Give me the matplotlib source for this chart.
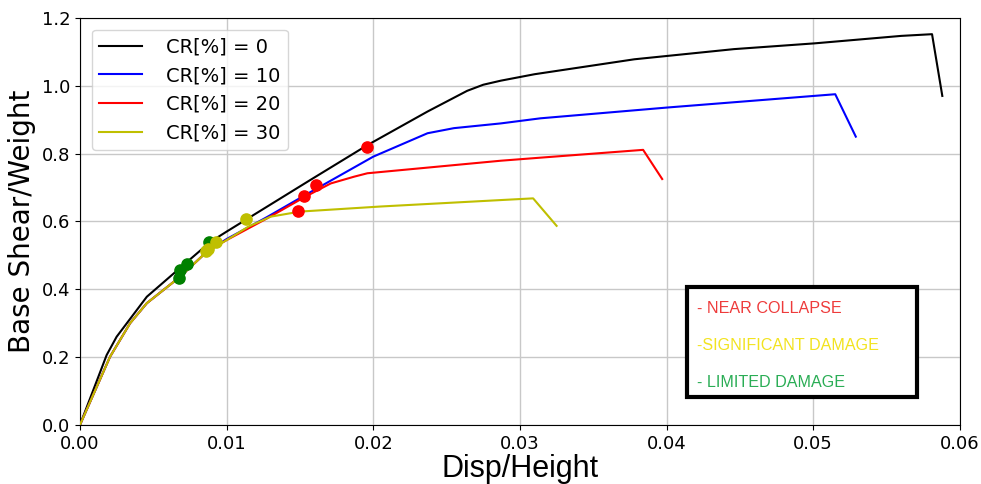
import matplotlib
matplotlib.use("Agg")
import matplotlib.pyplot as plt
from matplotlib.patches import Rectangle

# pushover curves: drift ratio vs base shear / weight
cr0_x = [0.0, 0.00182, 0.0025, 0.00456, 0.00683, 0.0089, 0.01, 0.0157, 0.0196, 0.0237,
         0.0264, 0.0275, 0.0287, 0.031, 0.0378, 0.0446, 0.0501, 0.056, 0.0581, 0.0588]
cr0_y = [0.0, 0.206, 0.26, 0.378, 0.463, 0.54, 0.57, 0.722, 0.825, 0.924,
         0.985, 1.003, 1.015, 1.034, 1.078, 1.108, 1.125, 1.147, 1.152, 0.970]

cr10_x = [0.0, 0.00205, 0.00342, 0.00456, 0.00683, 0.00866, 0.01, 0.01276, 0.01537, 0.02,
          0.0237, 0.0255, 0.0287, 0.0314, 0.0401, 0.0515, 0.0529]
cr10_y = [0.0, 0.201, 0.30, 0.359, 0.437, 0.511, 0.548, 0.613, 0.678, 0.791,
          0.86, 0.875, 0.889, 0.904, 0.936, 0.975, 0.850]

cr20_x = [0.0, 0.00205, 0.00342, 0.00456, 0.00683, 0.00866, 0.01, 0.01276, 0.01537, 0.0171,
          0.0187, 0.0196, 0.0287, 0.0314, 0.0384, 0.0397]
cr20_y = [0.0, 0.201, 0.30, 0.359, 0.437, 0.511, 0.545, 0.609, 0.673, 0.712,
          0.732, 0.742, 0.779, 0.788, 0.811, 0.725]

cr30_x = [0.0, 0.00205, 0.00342, 0.00456, 0.00683, 0.00866, 0.01, 0.0115, 0.013, 0.015,
          0.0205, 0.0287, 0.0309, 0.0325]
cr30_y = [0.0, 0.201, 0.30, 0.359, 0.437, 0.511, 0.545, 0.585, 0.614, 0.629,
          0.644, 0.663, 0.668, 0.587]

labels = ["CR[%] = 0", "CR[%] = 10", "CR[%] = 20", "CR[%] = 30"]

# performance points (CR 0, 10, 20, 30)
nc_x = [0.0196, 0.0161, 0.0153, 0.0149]
nc_y = [0.820, 0.708, 0.675, 0.631]
sd_x = [0.01134, 0.0093, 0.00875, 0.0086]
sd_y = [0.607, 0.540, 0.520, 0.513]
ld_x = [0.00877, 0.00729, 0.00683, 0.00674]
ld_y = [0.540, 0.475, 0.457, 0.434]

fig = plt.figure(figsize=(9.81, 4.84), dpi=100)
ax = fig.add_axes([0.0815, 0.122, 0.897, 0.841])

for xs, ys, c, lab in zip([cr0_x, cr10_x, cr20_x, cr30_x], [cr0_y, cr10_y, cr20_y, cr30_y],
                          ["k", "b", "r", "y"], labels):
    ax.plot(xs, ys, color=c, lw=1.5, label=lab, zorder=3)

ax.scatter(ld_x, ld_y, s=65, color="g", zorder=4)
ax.scatter(sd_x, sd_y, s=65, color="y", zorder=4)
ax.scatter(nc_x, nc_y, s=65, color="r", zorder=4)

ax.set_xlim(0, 0.06)
ax.set_ylim(0, 1.2)
ax.set_xticks([0.0, 0.01, 0.02, 0.03, 0.04, 0.05, 0.06])
ax.set_yticks([0.0, 0.2, 0.4, 0.6, 0.8, 1.0, 1.2])
ax.set_xticklabels(["0.00", "0.01", "0.02", "0.03", "0.04", "0.05", "0.06"])
ax.grid(True, color="#c8c8c8", lw=1)
ax.set_axisbelow(True)
ax.tick_params(labelsize=13)
ax.set_xlabel("Disp/Height", fontsize=22, family="Liberation Sans", labelpad=1)
ax.set_ylabel("Base Shear/Weight", fontsize=20, labelpad=4)

ax.legend(loc="upper left", fontsize=14, handlelength=2.2, handletextpad=1.2,
          borderaxespad=0.6, framealpha=0.8)

# damage-state key box
ax.add_patch(Rectangle((0.6893, 0.068), 0.2614, 0.27, transform=ax.transAxes,
                       facecolor="white", edgecolor="black", lw=3, zorder=6))
key_txt = ["- NEAR COLLAPSE", "-SIGNIFICANT DAMAGE", "- LIMITED DAMAGE"]
key_col = ["#ee3b3b", "#f2e31f", "#2aad55"]
for i, (t, c) in enumerate(zip(key_txt, key_col)):
    ax.text(0.7015, 0.285 - i * 0.09, t, color=c, fontsize=11.6, family="Liberation Sans",
            transform=ax.transAxes, va="center", ha="left", zorder=7)

fig.savefig("out.png", dpi=100)
